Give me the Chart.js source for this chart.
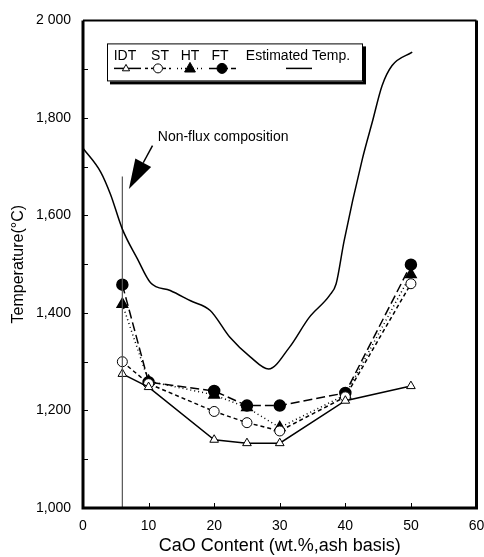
<!DOCTYPE html>
<html>
<head>
<meta charset="utf-8">
<script src="https://cdn.jsdelivr.net/npm/chart.js@4.4.1/dist/chart.umd.min.js"></script>
<style>
  html, body { margin: 0; padding: 0; background: #fff; }
  #wrap { width: 484px; height: 557px; }
</style>
</head>
<body>
<div id="wrap"><canvas id="myChart" width="484" height="557"></canvas></div>
<script>
// CaO content (wt.%, ash basis) of the measured samples
const caoContent = [6, 10, 20, 25, 30, 40, 50];
// ash fusion temperatures (°C)
const idtValues = [1275, 1248, 1140, 1133, 1133, 1220, 1250];
const stValues = [1300, 1255, 1198, 1175, 1158, 1228, 1460];
const htValues = [1418, 1260, 1232, 1206, 1165, 1232, 1479];
const ftValues = [1458, 1258, 1240, 1210, 1210, 1236, 1499];

// estimated temperature curve
const estX = [0, 2.7, 4.2, 6, 8.3, 10.3, 13.3, 16.4, 19.4, 22.4, 25.5, 28.3, 31.5, 34.5, 37.6, 38.6, 39.8, 42.6, 44.1, 45.6, 47.1, 50.2];
const estY = [1738, 1689, 1643, 1572, 1511, 1462, 1446, 1425, 1405, 1350, 1310, 1285, 1330, 1391, 1436, 1460, 1547, 1716, 1791, 1866, 1907, 1935];

// non-flux composition marker line
const nonFluxX = [6, 6];
const nonFluxY = [1000, 1680];

const yTickLabels = ['1,000', '1,200', '1,400', '1,600', '1,800', '2 000'];
const legendLabels = ['IDT', 'ST', 'HT', 'FT', 'Estimated Temp.'];

const FONT = '"Liberation Sans", Arial, Helvetica, sans-serif';

const toPoints = (xs, ys) => xs.map((x, i) => ({ x: x, y: ys[i] }));

// dibuja marco, ticks interiores, leyenda y anotacion
const decorPlugin = {
  id: 'decor',
  afterDraw(chart) {
    const ctx = chart.ctx;
    const ca = chart.chartArea;
    const xs = chart.scales.x;
    const ys = chart.scales.y;
    ctx.save();

    // ticks interiores
    ctx.strokeStyle = '#000';
    ctx.lineWidth = 1;
    for (let v = 1100; v < 2000; v += 100) {
      const py = Math.round(ys.getPixelForValue(v)) + 0.5;
      ctx.beginPath();
      ctx.moveTo(ca.left, py);
      ctx.lineTo(ca.left + 5, py);
      ctx.stroke();
    }
    for (let v = 10; v < 60; v += 10) {
      const px = Math.round(xs.getPixelForValue(v)) + 0.5;
      ctx.beginPath();
      ctx.moveTo(px, ca.bottom);
      ctx.lineTo(px, ca.bottom - 5);
      ctx.stroke();
    }

    // marco
    ctx.lineWidth = 3;
    ctx.beginPath();
    ctx.moveTo(ca.left, ca.top);
    ctx.lineTo(ca.left, ca.bottom);
    ctx.lineTo(ca.right, ca.bottom);
    ctx.lineTo(ca.right, ca.top);
    ctx.stroke();
    ctx.lineWidth = 2;
    ctx.beginPath();
    ctx.moveTo(ca.left, ca.top);
    ctx.lineTo(ca.right, ca.top);
    ctx.stroke();

    // leyenda
    const lx = ca.left + 24, ly = ca.top + 23, lw = 256, lh = 38;
    ctx.fillStyle = '#000';
    ctx.fillRect(lx + 3, ly + 3, lw, lh);
    ctx.fillStyle = '#fff';
    ctx.fillRect(lx, ly, lw, lh);
    ctx.lineWidth = 1;
    ctx.strokeStyle = '#000';
    ctx.strokeRect(lx + 0.5, ly + 0.5, lw - 1, lh - 1);

    const textY = ly + 13;
    const symY = ly + 25;
    const textX = [42, 77, 107, 137, 215];
    ctx.font = '14px ' + FONT;
    ctx.textAlign = 'center';
    ctx.textBaseline = 'middle';
    ctx.fillStyle = '#000';
    legendLabels.forEach((t, i) => ctx.fillText(t, ca.left + textX[i], textY));

    const seg = (x1, x2, dash, w) => {
      ctx.setLineDash(dash);
      ctx.lineWidth = w;
      ctx.beginPath();
      ctx.moveTo(ca.left + x1, symY);
      ctx.lineTo(ca.left + x2, symY);
      ctx.stroke();
      ctx.setLineDash([]);
    };
    const tri = (cx, r, filled) => {
      ctx.beginPath();
      ctx.moveTo(cx, symY - r);
      ctx.lineTo(cx + r * 0.9, symY + r * 0.6);
      ctx.lineTo(cx - r * 0.9, symY + r * 0.6);
      ctx.closePath();
      if (filled) ctx.fill(); else { ctx.fillStyle = '#fff'; ctx.fill(); ctx.fillStyle = '#000'; }
      ctx.lineWidth = 1;
      ctx.stroke();
    };
    const circ = (cx, r, filled) => {
      ctx.beginPath();
      ctx.arc(cx, symY, r, 0, Math.PI * 2);
      if (filled) ctx.fill(); else { ctx.fillStyle = '#fff'; ctx.fill(); ctx.fillStyle = '#000'; }
      ctx.lineWidth = 1;
      ctx.stroke();
    };
    seg(31, 58, [], 1.5); tri(ca.left + 43, 4, false);
    seg(62, 88, [3, 3], 1.5); circ(ca.left + 75, 4.5, false);
    seg(94, 122, [1, 3], 1.5); tri(ca.left + 107, 6, true);
    seg(126, 153, [8, 3], 1.5); circ(ca.left + 139, 5, true);
    seg(203, 229, [], 1.5);

    // anotacion "Non-flux composition"
    ctx.font = '14px ' + FONT;
    ctx.textAlign = 'left';
    ctx.fillText('Non-flux composition', xs.getPixelForValue(11.4), ys.getPixelForValue(1760));
    const tailX = xs.getPixelForValue(10.6), tailY = ys.getPixelForValue(1743);
    const tipX = xs.getPixelForValue(7.0), tipY = ys.getPixelForValue(1654);
    const ang = Math.atan2(tipY - tailY, tipX - tailX);
    const headLen = 30, headW = 9;
    const bx = tipX - headLen * Math.cos(ang), by = tipY - headLen * Math.sin(ang);
    ctx.lineWidth = 1.5;
    ctx.beginPath();
    ctx.moveTo(tailX, tailY);
    ctx.lineTo(bx, by);
    ctx.stroke();
    ctx.beginPath();
    ctx.moveTo(tipX, tipY);
    ctx.lineTo(bx + headW * Math.sin(ang), by - headW * Math.cos(ang));
    ctx.lineTo(bx - headW * Math.sin(ang), by + headW * Math.cos(ang));
    ctx.closePath();
    ctx.fill();

    ctx.restore();
  }
};

const ctx = document.getElementById('myChart').getContext('2d');
new Chart(ctx, {
  type: 'line',
  data: {
    datasets: [
      {
        label: 'Estimated Temp.',
        data: toPoints(estX, estY),
        borderColor: '#000',
        borderWidth: 1.5,
        pointRadius: 0,
        cubicInterpolationMode: 'monotone',
        fill: false,
      },
      {
        label: 'Non-flux',
        data: toPoints(nonFluxX, nonFluxY),
        borderColor: '#555',
        borderWidth: 1.2,
        pointRadius: 0,
        fill: false,
      },
      {
        label: 'IDT',
        data: toPoints(caoContent, idtValues),
        borderColor: '#000',
        borderWidth: 1.5,
        pointStyle: 'triangle',
        pointRadius: 5,
        pointBackgroundColor: '#fff',
        pointBorderColor: '#000',
        pointBorderWidth: 1,
      },
      {
        label: 'ST',
        data: toPoints(caoContent, stValues),
        borderColor: '#000',
        borderWidth: 1.5,
        borderDash: [4, 3],
        pointStyle: 'circle',
        pointRadius: 5,
        pointBackgroundColor: '#fff',
        pointBorderColor: '#000',
        pointBorderWidth: 1,
      },
      {
        label: 'HT',
        data: toPoints(caoContent, htValues),
        borderColor: '#000',
        borderWidth: 1.5,
        borderDash: [1, 3],
        pointStyle: 'triangle',
        pointRadius: 6,
        pointBackgroundColor: '#000',
        pointBorderColor: '#000',
      },
      {
        label: 'FT',
        data: toPoints(caoContent, ftValues),
        borderColor: '#000',
        borderWidth: 1.5,
        borderDash: [9, 4],
        pointStyle: 'circle',
        pointRadius: 5.5,
        pointBackgroundColor: '#000',
        pointBorderColor: '#000',
      },
    ],
  },
  options: {
    responsive: false,
    animation: false,
    layout: { padding: { left: 0, right: 5, top: 17, bottom: 0 } },
    plugins: {
      legend: { display: false },
      tooltip: { enabled: false },
    },
    scales: {
      x: {
        type: 'linear',
        min: 0,
        max: 60,
        grid: { display: false, drawTicks: false },
        border: { display: false },
        ticks: {
          stepSize: 10,
          padding: 10,
          color: '#000',
          font: { family: FONT, size: 14 },
        },
        title: {
          display: true,
          text: 'CaO Content (wt.%,ash basis)',
          color: '#000',
          font: { family: FONT, size: 18 },
          padding: { top: 0, bottom: 0 },
        },
        afterFit: (scale) => {
          scale.height = 49;
          scale.paddingLeft = 0;
          scale.paddingRight = 0;
        },
      },
      y: {
        min: 1000,
        max: 2000,
        grid: { display: false, drawTicks: false },
        border: { display: false },
        ticks: {
          stepSize: 200,
          padding: 12,
          color: '#000',
          font: { family: FONT, size: 14 },
          callback: (v, i) => yTickLabels[i],
        },
        title: {
          display: true,
          text: 'Temperature(\u00B0C)',
          color: '#000',
          font: { family: FONT, size: 16 },
          padding: { top: 9, bottom: 0 },
        },
        afterFit: (scale) => {
          scale.width = 83;
        },
      },
    },
  },
  plugins: [decorPlugin],
});
</script>
</body>
</html>
